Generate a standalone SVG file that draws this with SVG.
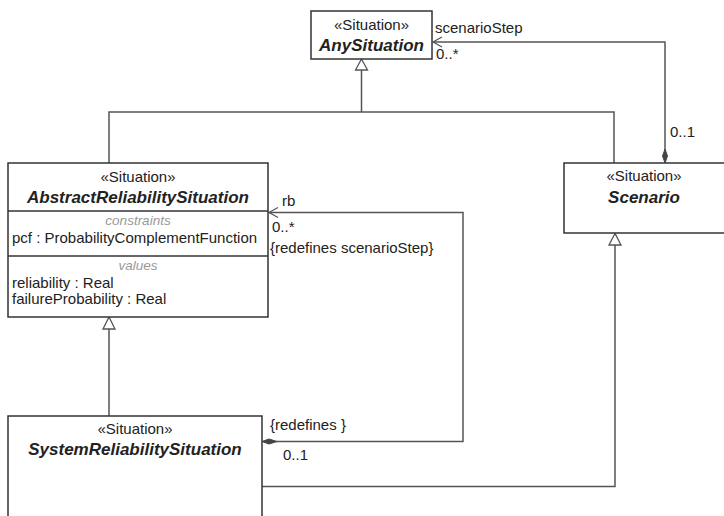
<svg xmlns="http://www.w3.org/2000/svg" width="724" height="516" viewBox="0 0 724 516">
<style>
.box{fill:#fff;stroke:#333;stroke-width:1.5}
.div{stroke:#333;stroke-width:1.5}
.ln{fill:none;stroke:#555;stroke-width:1.5}
.tri{fill:#fff;stroke:#555;stroke-width:1.3}
.dia{fill:#444;stroke:#444;stroke-width:1}
.arr{fill:none;stroke:#555;stroke-width:1.2}
text{font-family:"Liberation Sans",Arial,sans-serif;font-size:15px;fill:#222}
.st{text-anchor:middle}
.nm{text-anchor:middle;font-weight:bold;font-style:italic;font-size:17px}
.cp{text-anchor:middle;font-style:italic;font-size:13.5px;fill:#999}
</style>
<rect width="724" height="516" fill="#fff"/>
<g id="connectors">
<path class="ln" d="M109,163 V112 H614 V163"/>
<path class="ln" d="M361.5,70 V112"/>
<path class="tri" d="M361.5,59 L355.5,70 H367.5 Z"/>
<path class="ln" d="M665,150 V42 H433"/>
<path class="arr" d="M442,37 L433,42 L442,47"/>
<path class="dia" d="M665,149 L667.5,156 L665,163 L662.5,156 Z"/>
<path class="ln" d="M109,329 V416"/>
<path class="tri" d="M109,317 L103,329 H115 Z"/>
<path class="ln" d="M615,245 V486.5 H262"/>
<path class="tri" d="M615,233.5 L609,245 H621 Z"/>
<path class="ln" d="M269,212.5 H463 V441.5 H276"/>
<path class="arr" d="M278,207.5 L269,212.5 L278,217.5"/>
<path class="dia" d="M262,441.5 L269,439 L277,441.5 L269,444 Z"/>
<text x="435" y="33">scenarioStep</text>
<text x="436" y="59">0..*</text>
<text x="670" y="137">0..1</text>
<text x="282" y="206">rb</text>
<text x="272" y="232">0..*</text>
<text x="270" y="253">{redefines scenarioStep}</text>
<text x="270" y="430">{redefines }</text>
<text x="283" y="460">0..1</text>
</g>
<g id="AnySituation">
<rect class="box" x="311" y="11" width="121" height="48"/>
<text class="st" x="371.5" y="30">«Situation»</text>
<text class="nm" x="371.5" y="51">AnySituation</text>
</g>
<g id="AbstractReliabilitySituation">
<rect class="box" x="8" y="163" width="260" height="154"/>
<line class="div" x1="8" y1="211" x2="268" y2="211"/>
<line class="div" x1="8" y1="256" x2="268" y2="256"/>
<text class="st" x="138" y="182">«Situation»</text>
<text class="nm" x="138" y="203">AbstractReliabilitySituation</text>
<text class="cp" x="138" y="225">constraints</text>
<text x="12" y="243">pcf : ProbabilityComplementFunction</text>
<text class="cp" x="138" y="270">values</text>
<text x="12" y="288">reliability : Real</text>
<text x="12" y="304">failureProbability : Real</text>
</g>
<g id="Scenario">
<rect class="box" x="564" y="163" width="165" height="70"/>
<text class="st" x="644" y="181">«Situation»</text>
<text class="nm" x="644" y="203">Scenario</text>
</g>
<g id="SystemReliabilitySituation">
<rect class="box" x="8" y="416" width="254" height="110"/>
<text class="st" x="135" y="434">«Situation»</text>
<text class="nm" x="135" y="455">SystemReliabilitySituation</text>
</g>
</svg>
